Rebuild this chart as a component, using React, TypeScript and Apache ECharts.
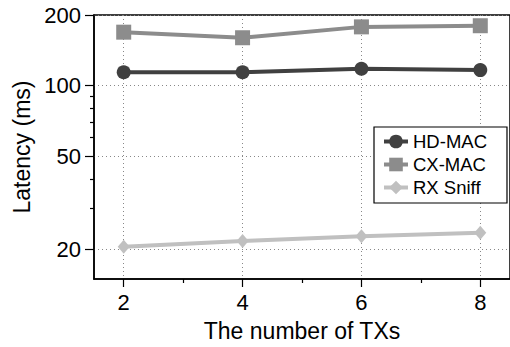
import React, { useEffect, useRef } from "react";
import * as echarts from "echarts";

const txCounts = [2, 4, 6, 8];
const hdMac = [114, 114, 118, 116.5];
const cxMac = [169, 160, 178, 180];
const rxSniff = [20.6, 21.8, 22.8, 23.6];
const yMajorTicks = [20, 50, 100, 200];
const yMinorTicks = [30, 40, 60, 70, 80, 90];
const xMajorTicks = [2, 4, 6, 8];
const xMinorTicks = [3, 5, 7];
const seriesNames = ["HD-MAC", "CX-MAC", "RX Sniff"];

const FONT = "Liberation Sans";

export default function App() {
  const ref = useRef<HTMLDivElement>(null);
  useEffect(() => {
    if (!ref.current) return;
    const chart = echarts.init(ref.current, null, { renderer: "svg" });
    const pts = (vals: number[]) => txCounts.map((x, i) => [x, vals[i]]);
    const gridLine = { show: true, lineStyle: { color: "#888", type: [1, 3], width: 1 } };
    chart.setOption({
      animation: false,
      backgroundColor: "#fff",
      grid: {
        left: 94,
        top: 15,
        width: 416,
        height: 265,
        show: true,
        borderColor: "#000",
        borderWidth: 1.5,
        backgroundColor: "transparent",
      },
      xAxis: [
        {
          type: "value",
          min: 1.5,
          max: 8.5,
          name: "The number of TXs",
          nameLocation: "middle",
          nameGap: 40,
          nameTextStyle: { fontFamily: FONT, fontSize: 23, color: "#000" },
          axisLine: { show: true, lineStyle: { color: "#000", width: 1.5 } },
          axisTick: { show: true, customValues: xMajorTicks, length: 8, lineStyle: { color: "#000", width: 1.2 } },
          axisLabel: { customValues: xMajorTicks, fontFamily: FONT, fontSize: 22, color: "#000", margin: 12 },
          splitLine: gridLine,
        },
        {
          type: "value",
          min: 1.5,
          max: 8.5,
          position: "bottom",
          offset: 0,
          axisLine: { show: false },
          axisTick: { show: true, customValues: xMinorTicks, length: 4, lineStyle: { color: "#000", width: 1.2 } },
          axisLabel: { show: false },
          splitLine: { show: false },
        },
      ],
      yAxis: [
        {
          type: "log",
          logBase: 10,
          min: 15,
          max: 200,
          name: "Latency (ms)",
          nameLocation: "middle",
          nameGap: 50,
          nameTextStyle: { fontFamily: FONT, fontSize: 23, color: "#000" },
          axisLine: { show: true, lineStyle: { color: "#000", width: 1.5 } },
          axisTick: { show: true, customValues: yMajorTicks, length: 9, lineStyle: { color: "#000", width: 1.2 } },
          axisLabel: { customValues: yMajorTicks, fontFamily: FONT, fontSize: 22, color: "#000", margin: 13 },
          splitLine: gridLine,
        },
        {
          type: "log",
          logBase: 10,
          min: 15,
          max: 200,
          position: "left",
          offset: 0,
          axisLine: { show: false },
          axisTick: { show: true, customValues: yMinorTicks, length: 4, lineStyle: { color: "#000", width: 1.2 } },
          axisLabel: { show: false },
          splitLine: { show: false },
        },
      ],
      legend: {
        data: seriesNames,
        orient: "vertical",
        left: 374,
        top: 127,
        padding: [5, 20, 6, 8],
        itemGap: 4,
        itemWidth: 24,
        itemHeight: 17,
        lineStyle: { width: 4 },
        borderColor: "#000",
        borderWidth: 1.2,
        backgroundColor: "#fff",
        textStyle: { fontFamily: FONT, fontSize: 18.5, color: "#000" },
      },
      series: [
        {
          name: seriesNames[0],
          type: "line",
          data: pts(hdMac),
          symbol: "circle",
          symbolSize: 14,
          color: "#404040",
          lineStyle: { width: 4, color: "#404040" },
          itemStyle: { color: "#404040" },
        },
        {
          name: seriesNames[1],
          type: "line",
          data: pts(cxMac),
          symbol: "rect",
          symbolSize: 15,
          color: "#8c8c8c",
          lineStyle: { width: 4, color: "#8c8c8c" },
          itemStyle: { color: "#8c8c8c" },
        },
        {
          name: seriesNames[2],
          type: "line",
          data: pts(rxSniff),
          symbol: "diamond",
          symbolSize: [12, 14],
          color: "#c0c0c0",
          lineStyle: { width: 4, color: "#c0c0c0" },
          itemStyle: { color: "#c0c0c0" },
        },
      ],
    });
    return () => chart.dispose();
  }, []);
  return (
    <div
      ref={ref}
      style={{ position: "absolute", left: 0, top: 0, width: 510, height: 347 }}
    />
  );
}
